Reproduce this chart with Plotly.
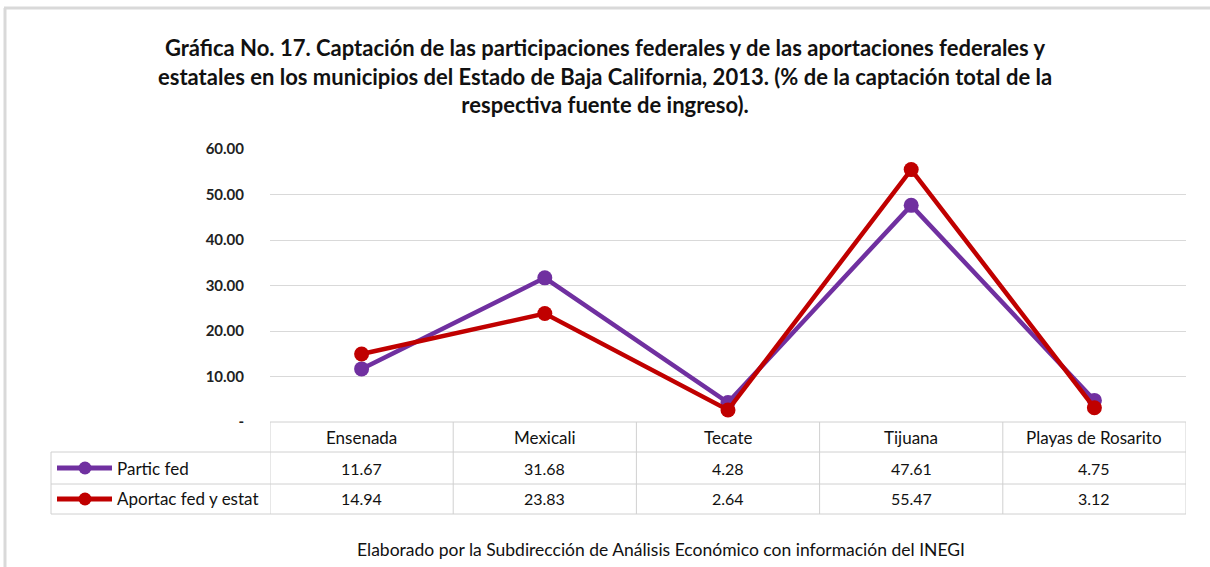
import plotly.graph_objects as go

categories = ["Ensenada", "Mexicali", "Tecate", "Tijuana", "Playas de Rosarito"]
partic_fed = [11.67, 31.68, 4.28, 47.61, 4.75]
aportac_fed_estat = [14.94, 23.83, 2.64, 55.47, 3.12]
series_names = ["Partic fed", "Aportac fed y estat"]
y_ticks = [0, 10, 20, 30, 40, 50, 60]
y_ticktext = ["-", "10.00", "20.00", "30.00", "40.00", "50.00", "60.00"]

title_text = ("Gráfica No. 17. Captación de las participaciones federales y de las aportaciones federales y<br>"
              "estatales en los municipios del Estado de Baja California, 2013. (% de la captación total de la<br>"
              "respectiva fuente de ingreso).")
footer_text = "Elaborado por la Subdirección de Análisis Económico con información del INEGI"

W, H = 1210, 567
L, R, T, B = 270, 1186, 149, 422
colors = ["#7030A0", "#C00000"]
FONT = "Lato"
TXT = "#111111"
grid = "#D9D9D9"


def px(x):
    return (x - L) / (R - L)


def py(y):
    return (B - y) / (B - T)


fig = go.Figure()
for name, vals, c in zip(series_names, [partic_fed, aportac_fed_estat], colors):
    fig.add_trace(go.Scatter(
        x=categories, y=vals, name=name, mode="lines+markers",
        line=dict(color=c, width=4.5), marker=dict(color=c, size=15),
        showlegend=False, cliponaxis=False, hoverinfo="skip"))

shapes = []
annotations = []
line_style = dict(color="#D0D0D0", width=1)

# table horizontal lines
shapes.append(dict(type="line", xref="paper", yref="paper", x0=0, x1=1, y0=py(422), y1=py(422), line=line_style))
for yy in [452, 484, 514]:
    shapes.append(dict(type="line", xref="paper", yref="paper", x0=px(51), x1=1, y0=py(yy), y1=py(yy), line=line_style))
# vertical lines at category boundaries
for i in range(len(categories) + 1):
    shapes.append(dict(type="line", xref="x", yref="paper", x0=i - 0.5, x1=i - 0.5,
                       y0=py(422), y1=py(514), line=line_style))
shapes.append(dict(type="line", xref="paper", yref="paper", x0=px(51), x1=px(51),
                   y0=py(452), y1=py(514), line=line_style))

# headers and values
for i, cat in enumerate(categories):
    annotations.append(dict(x=cat, xref="x", y=py(437), yref="paper", text=cat, showarrow=False,
                            xanchor="center", yanchor="middle",
                            font=dict(family=FONT, size=17, color=TXT)))
    for row_y, vals in zip([468, 499], [partic_fed, aportac_fed_estat]):
        annotations.append(dict(x=cat, xref="x", y=py(row_y), yref="paper", text=f"{vals[i]:.2f}",
                                showarrow=False, xanchor="center", yanchor="middle",
                                font=dict(family=FONT, size=16, color=TXT)))

# legend keys in table
for row_y, name, c in zip([468, 499], series_names, colors):
    shapes.append(dict(type="line", xref="paper", yref="paper", x0=px(57), x1=px(112),
                       y0=py(row_y), y1=py(row_y), line=dict(color=c, width=5)))
    shapes.append(dict(type="circle", xref="paper", yref="paper", x0=px(78.5), x1=px(91.5),
                       y0=py(row_y + 6.5), y1=py(row_y - 6.5), fillcolor=c, line=dict(color=c, width=0)))
    annotations.append(dict(x=px(115), xref="paper", y=py(row_y), yref="paper", text=name,
                            xanchor="left", yanchor="middle", showarrow=False,
                            font=dict(family=FONT, size=17, color=TXT)))

# title
annotations.append(dict(x=px(605), xref="paper", y=py(75.5), yref="paper", text=title_text,
                        xanchor="center", yanchor="middle", showarrow=False,
                        font=dict(family=FONT, size=22, color="#111", weight="bold")))

# footer
annotations.append(dict(x=px(661), xref="paper", y=py(549), yref="paper", text=footer_text,
                        xanchor="center", yanchor="middle", showarrow=False,
                        font=dict(family=FONT, size=17.5, color=TXT)))

# outer frame
shapes.append(dict(type="line", xref="paper", yref="paper", x0=px(4), x1=px(1210), y0=py(8), y1=py(8),
                   line=dict(color="#D9D9D9", width=3)))
shapes.append(dict(type="line", xref="paper", yref="paper", x0=px(5), x1=px(5), y0=py(8), y1=py(567),
                   line=dict(color="#D9D9D9", width=3)))

fig.update_layout(
    width=W, height=H,
    margin=dict(l=L, r=W - R, t=T, b=H - B),
    paper_bgcolor="white", plot_bgcolor="white",
    xaxis=dict(type="category", range=[-0.5, len(categories) - 0.5], showticklabels=False,
               showgrid=False, zeroline=False, showline=False, ticks=""),
    yaxis=dict(range=[0, 60], tickvals=y_ticks, ticktext=y_ticktext, showgrid=True, gridcolor=grid,
               gridwidth=1, zeroline=False, showline=False, ticks="", ticklabelstandoff=25,
               tickfont=dict(family=FONT, size=15, color="#222", weight="bold")),
    shapes=shapes, annotations=annotations,
    font=dict(family=FONT),
)

fig.write_html("out.html", config={"displayModeBar": False},
               post_script="document.body.style.margin='0';document.body.style.padding='0';")
